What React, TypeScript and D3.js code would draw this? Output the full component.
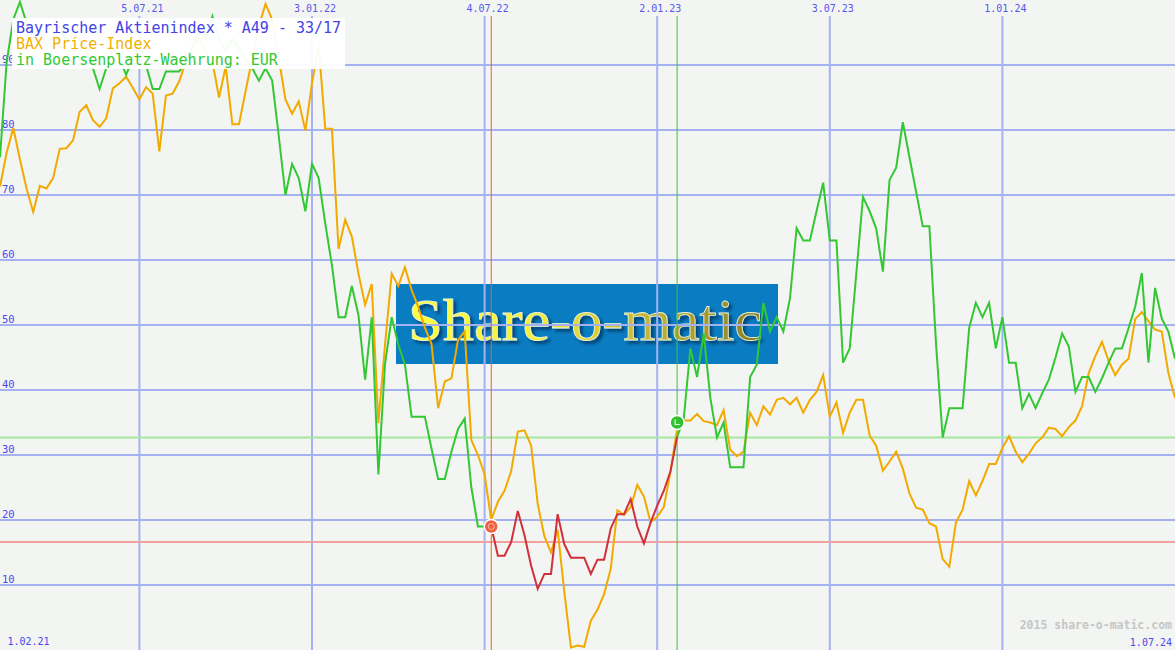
import React from "react";
import * as d3 from "d3";

// ---- data (weekly closes) ----
const firstWeek = "2021-02-08";
const lastWeek = "2024-07-01";

// Stock price in EUR (green, red during the sell period)
const priceValues = [
  75.8, 90.4, 97, 99.7, 96.5, 94, 95.5, 93, 94.5, 96, 93.5, 95, 94, 92, 89.5, 86.3, 89.5, 92.5, 91, 88.5,
  91, 93, 90, 86.3, 86.3, 89, 89, 89, 90.5, 93, 95, 94, 97.5, 94, 92, 94, 92.5, 91, 89.5, 87.6,
  89.5, 87.6, 79, 70, 74.8, 72.6, 67.5, 74.8, 72.6, 65.6, 59.2, 51.2, 51.2, 56, 51.5, 41.6, 51.2, 27, 44, 51.2,
  47, 43.9, 35.9, 35.9, 35.9, 31, 26.3, 26.3, 30.5, 34, 35.6, 25, 19, 19, 19, 14.5, 14.5, 16.6, 21.4, 17.7,
  13, 9.4, 11.7, 11.7, 20.9, 16.3, 14.2, 14.2, 14.2, 11.7, 13.9, 13.9, 18.7, 20.9, 20.9, 23.2, 19, 16.4, 19.6, 22.2,
  24.5, 27.5, 32.8, 35.6, 46.4, 42, 48.7, 38.8, 32.7, 35, 28.1, 28.1, 28.1, 42, 43.9, 53.4, 49, 51.2, 49, 54.1,
  64.9, 63, 63, 67.5, 71.9, 63, 63, 44.2, 46.4, 58, 69.7, 67.5, 64.8, 58.2, 72.3, 74.2, 81.2, 75.8, 70.5, 65.2,
  65.2, 47.1, 32.7, 37.2, 37.2, 37.2, 49.6, 53.4, 51.2, 53.4, 46.4, 51.2, 44.2, 44.2, 37.2, 39.4, 37.2, 39.5, 41.6, 45,
  48.7, 46.7, 39.7, 42, 42, 39.7, 41.8, 44.2, 46.4, 46.4, 49.5, 52.8, 58, 44.2, 55.7, 51, 49, 44.8,
];

// BAX Price-Index (orange), scaled into the same chart
const indexValues = [
  71.3, 76.5, 80.3, 75.5, 71, 67.4, 71.4, 71, 72.6, 77.1, 77.2, 78.4, 82.8, 83.8, 81.5, 80.5, 81.8, 86.4, 87.2, 88.2,
  86.5, 84.7, 86.6, 85.6, 76.7, 85.3, 85.6, 87.5, 90.5, 92.5, 94, 92, 90.5, 85, 89.8, 80.9, 80.9, 86, 91, 96,
  99.4, 97, 91, 84.7, 82.5, 84.4, 79.9, 87.2, 93, 80.2, 80.2, 61.7, 66.2, 63.6, 57.9, 53.1, 56.3, 34.9, 47, 57.9,
  56, 58.9, 55.4, 52.8, 49.6, 47.1, 37.2, 41.3, 41.8, 47.7, 49, 32.3, 30, 27, 20, 22.8, 24.5, 27.5, 33.6, 33.8,
  31.5, 22.5, 17.5, 15, 18.5, 9, 0.4, 0.7, 0.5, 4.5, 6.2, 8.6, 12.5, 21.5, 20.8, 22, 25.4, 23.6, 19.7, 20.5,
  22, 27.4, 34, 35.3, 35.3, 36.3, 35.2, 35, 34.6, 36.9, 30.8, 29.8, 30.5, 36.5, 34.6, 37.5, 36.2, 38.5, 38.8, 37.8,
  38.8, 36.5, 38.5, 39.7, 42.3, 35.9, 38.1, 33.4, 36.5, 38.5, 38.5, 33, 31.4, 27.6, 29, 30.5, 27.9, 24.1, 21.9, 21.6,
  19.5, 19, 14, 12.8, 19.6, 21.6, 26, 23.8, 26, 28.6, 28.6, 31.1, 32.9, 30.5, 28.9, 30.2, 31.8, 32.7, 34.2, 34,
  32.9, 34.3, 35.3, 37.5, 42.6, 45.2, 47.4, 44.5, 42.3, 43.9, 44.8, 50.9, 52, 50.6, 49.3, 49, 42.6, 38.8,
];

const sellDate = "2022-07-11";
const buyDate = "2023-01-23";
const markerValues = [19, 35];
const sellLevel = 16.6;
const buyLevel = 32.7;

const xTickDates = ["2021-07-05", "2022-01-03", "2022-07-04", "2023-01-02", "2023-07-03", "2024-01-01"];
const xTickLabels = ["5.07.21", "3.01.22", "4.07.22", "2.01.23", "3.07.23", "1.01.24"];
const yTicks = [10, 20, 30, 40, 50, 60, 70, 80, 90];
const startLabel = "1.02.21";
const endLabel = "1.07.24";
const legendLines = ["Bayrischer Aktienindex * A49 - 33/17", "BAX Price-Index", "in Boersenplatz-Waehrung: EUR"];

// ---- layout / style ----
const W = 1175;
const H = 650;
const GRID = "#a5b1f1";
const BG = "#f3f5f2";
const GREEN = "#33c833";
const ORANGE = "#f2aa00";
const RED = "#d0303a";
const MONO = "'DejaVu Sans Mono', 'Liberation Mono', monospace";

const parse = d3.timeParse("%Y-%m-%d");

export default function App() {
  const weeks = d3.timeMonday.range(parse(firstWeek)!, d3.timeDay.offset(parse(lastWeek)!, 1));
  const x = d3.scaleTime().domain([weeks[0], weeks[weeks.length - 1]]).range([0, W]);
  const y = d3.scaleLinear().domain([0, 100]).range([H, 0]);

  const sellT = parse(sellDate)!.getTime();
  const buyT = parse(buyDate)!.getTime();
  const sellIdx = weeks.findIndex((d) => d.getTime() === sellT);
  const buyIdx = weeks.findIndex((d) => d.getTime() === buyT);

  const line = d3
    .line<[Date, number]>()
    .x((d) => x(d[0]))
    .y((d) => y(d[1]));

  const pricePts: [Date, number][] = weeks.map((d, i) => [d, priceValues[i]]);
  const indexPts: [Date, number][] = weeks.map((d, i) => [d, indexValues[i]]);
  const greenA = pricePts.slice(0, sellIdx + 1);
  const redSeg = pricePts.slice(sellIdx, buyIdx + 1);
  const greenB = pricePts.slice(buyIdx);

  const sx = x(weeks[sellIdx]);
  const bx = x(weeks[buyIdx]);

  return (
    <svg
      width={W}
      height={H}
      style={{ position: "absolute", left: 0, top: 0, display: "block" }}
      xmlns="http://www.w3.org/2000/svg"
    >
      <defs>
        <clipPath id="plot">
          <rect x={0} y={0} width={W} height={H} />
        </clipPath>
        <linearGradient id="logoGrad" x1="0" x2="1" y1="0" y2="0">
          <stop offset="0" stopColor="#ffff3a" />
          <stop offset="0.35" stopColor="#f4ef3c" />
          <stop offset="0.65" stopColor="#c9b838" />
          <stop offset="1" stopColor="#8a7c2a" />
        </linearGradient>
        <filter id="logoShadow" x="-5%" y="-20%" width="110%" height="140%">
          <feDropShadow dx={3} dy={3} stdDeviation={1.5} floodColor="#062040" floodOpacity={0.6} />
        </filter>
      </defs>
      <rect x={0} y={0} width={W} height={H} fill={BG} />

      {/* watermark logo */}
      <rect x={396} y={284} width={382} height={80} fill="#0a7cc1" />
      <text
        x={408}
        y={340}
        fontFamily="'Liberation Serif', 'DejaVu Serif', serif"
        fontSize={60}
        textLength={354}
        lengthAdjust="spacingAndGlyphs"
        fill="url(#logoGrad)"
        stroke="#e8f4d8"
        strokeWidth={0.8}
        filter="url(#logoShadow)"
      >
        Share-o-matic
      </text>

      {/* grid */}
      {yTicks.map((t) => (
        <line key={"h" + t} x1={0} x2={W} y1={y(t)} y2={y(t)} stroke={GRID} strokeWidth={2} />
      ))}
      {xTickDates.map((d) => {
        const xx = x(parse(d)!);
        return <line key={"v" + d} x1={xx} x2={xx} y1={16} y2={H} stroke={GRID} strokeWidth={2} />;
      })}

      {/* signal levels */}
      <line x1={0} x2={W} y1={y(sellLevel)} y2={y(sellLevel)} stroke="#f2a0a0" strokeWidth={2} />
      <line x1={0} x2={W} y1={y(buyLevel)} y2={y(buyLevel)} stroke="#a4e8a0" strokeWidth={2} />
      <line x1={sx} x2={sx} y1={16} y2={H} stroke="#e4603c" strokeWidth={1} />
      <line x1={bx} x2={bx} y1={16} y2={H} stroke="#40c040" strokeWidth={1} />

      {/* y labels */}
      {yTicks.map((t) => (
        <text key={"yl" + t} x={2} y={y(t) - 2.5} fontFamily={MONO} fontSize={10.5} fill="#4848f0">
          {t}
        </text>
      ))}
      {/* x labels */}
      {xTickDates.map((d, i) => (
        <text
          key={"xl" + d}
          x={x(parse(d)!) + 3}
          y={12}
          textAnchor="middle"
          fontFamily={MONO}
          fontSize={10}
          fill="#5656f0"
        >
          {xTickLabels[i]}
        </text>
      ))}

      {/* series */}
      <g clipPath="url(#plot)" fill="none" strokeWidth={2} strokeLinejoin="miter">
        <path d={line(indexPts)!} stroke={ORANGE} />
        <path d={line(greenA)!} stroke={GREEN} />
        <path d={line(greenB)!} stroke={GREEN} />
        <path d={line(redSeg)!} stroke={RED} />
      </g>

      {/* signal markers */}
      <g>
        <circle cx={sx} cy={y(markerValues[0])} r={7} fill="#f06040" stroke="#ffffff" strokeWidth={1.5} />
        <circle cx={sx} cy={y(markerValues[0])} r={3} fill="none" stroke="#ffb8a8" strokeWidth={1} />
        <circle cx={bx} cy={y(markerValues[1])} r={7} fill="#30c030" stroke="#ffffff" strokeWidth={1.5} />
        <path
          d={`M${bx - 2},${y(markerValues[1]) - 3}V${y(markerValues[1]) + 2}H${bx + 3}`}
          fill="none"
          stroke="#d8ffd8"
          strokeWidth={1.2}
        />
      </g>

      {/* legend */}
      <rect x={12} y={18} width={333} height={51} fill="#ffffff" opacity={0.95} />
      {legendLines.map((t, i) => (
        <text
          key={"lg" + i}
          x={16}
          y={33 + i * 16}
          fontFamily={MONO}
          fontSize={15}
          fill={i === 0 ? "#4343e6" : i === 1 ? "#f2b000" : "#33c833"}
        >
          {t}
        </text>
      ))}

      {/* footer */}
      <text x={7.5} y={645} fontFamily={MONO} fontSize={10} fill="#4848f0">
        {startLabel}
      </text>
      <text x={1172} y={646} textAnchor="end" fontFamily={MONO} fontSize={10} fill="#4848f0">
        {endLabel}
      </text>
      <text x={1172} y={629} textAnchor="end" fontFamily={MONO} fontSize={11.5} fontWeight="bold" fill="#c6c6c6">
        2015 share-o-matic.com
      </text>
    </svg>
  );
}
